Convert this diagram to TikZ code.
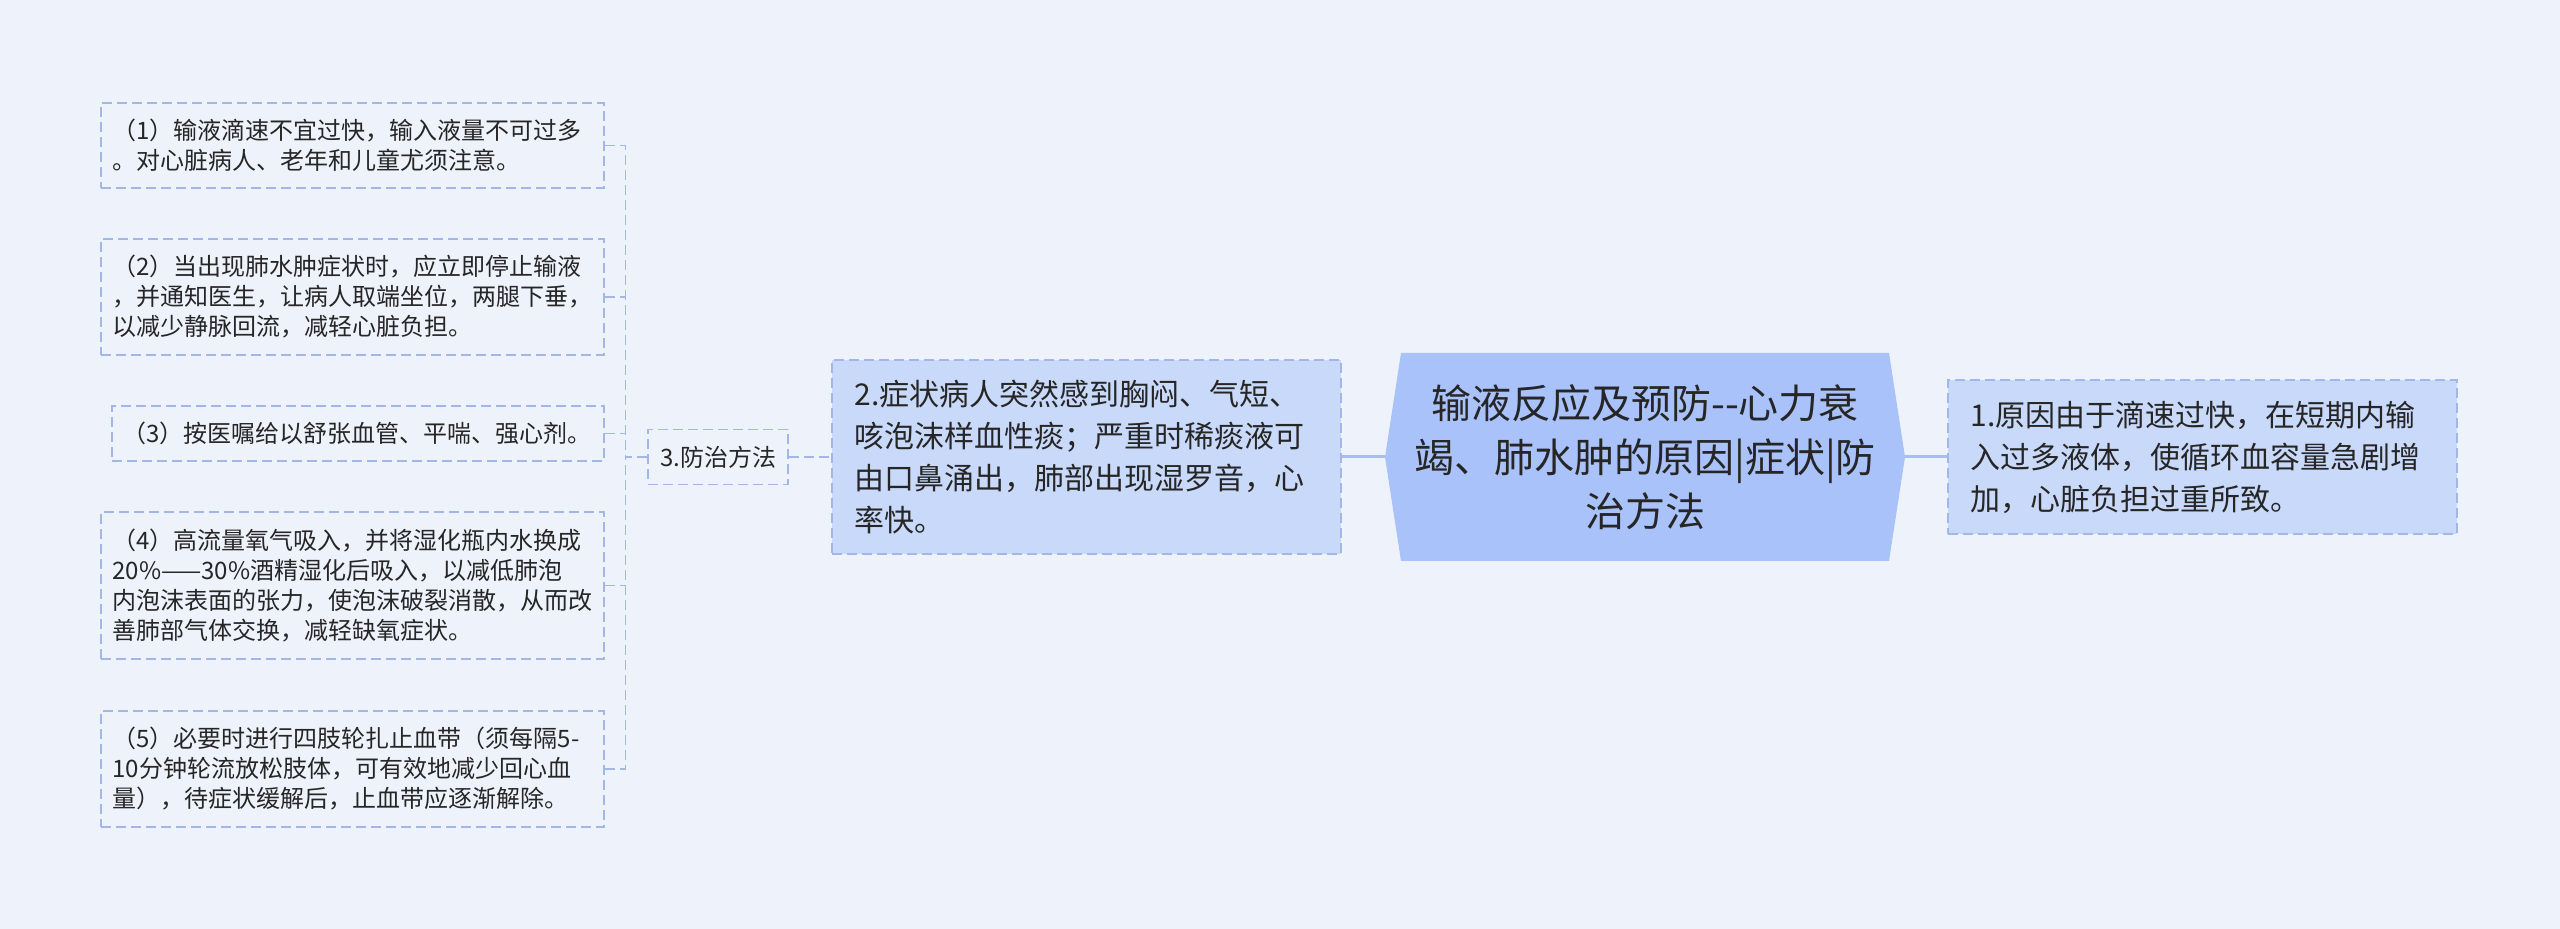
\documentclass[tikz,border=0pt]{standalone}
\usepackage{fontspec}
\newfontfamily\cjk{Noto Sans CJK SC}
\usetikzlibrary{calc}
\definecolor{bgc}{HTML}{EEF2FB}
\definecolor{rootfill}{HTML}{AAC2FA}
\definecolor{midfill}{HTML}{C9D9FA}
\definecolor{dashc}{HTML}{A3B6E8}
\definecolor{solidc}{HTML}{A8BDF0}
\definecolor{txt}{HTML}{262626}
\tikzset{
  boxdash/.style={draw=dashc, line width=0.7pt, dash pattern=on 5pt off 2.5pt},
  leafbox/.style={boxdash, inner sep=0pt, align=left, text=txt,
    font=\cjk\fontsize{12}{15}\selectfont, minimum width=251.5pt, text width=240pt},
  midbox/.style={boxdash, fill=midfill, inner sep=0pt, align=left, text=txt,
    font=\cjk\fontsize{15}{21}\selectfont, minimum width=254.5pt, text width=232pt},
  rootnode/.style={inner sep=0pt, align=center, text=txt,
    font=\cjk\fontsize{20}{27}\selectfont},
  dline/.style={boxdash},
  sline/.style={draw=solidc, line width=1.5pt},
}
\begin{document}
\begin{tikzpicture}[x=0.5pt,y=-0.5pt]
\fill[bgc] (0,0) rectangle (2560,929);
\useasboundingbox (0,0) rectangle (2560,929);

% root
\fill[rootfill] (1385,457) -- (1401,353) -- (1889,353) -- (1905,457) -- (1889,561) -- (1401,561) -- cycle;
\coordinate (rootW) at (1385,457);
\coordinate (rootE) at (1905,457);
\node[rootnode] (root) at (1645,457) {输液反应及预防--心力衰\\竭、肺水肿的原因|症状|防\\治方法};

% level 1
\node[midbox, minimum height=77pt] (n1) at (2202.5,457)
  {1.原因由于滴速过快，在短期内输\\入过多液体，使循环血容量急剧增\\加，心脏负担过重所致。};
\node[midbox, minimum height=97pt] (n2) at (1086.5,457)
  {2.症状病人突然感到胸闷、气短、\\咳泡沫样血性痰；严重时稀痰液可\\由口鼻涌出，肺部出现湿罗音，心\\率快。};
\node[boxdash, inner sep=0pt, text=txt, font=\cjk\fontsize{12}{15}\selectfont,
  minimum width=70pt, minimum height=27.5pt] (n3) at (718,457) {3.防治方法};

% leaves
\node[leafbox, minimum height=42.5pt] (l1) at (352.5,145.5)
  {（1）输液滴速不宜过快，输入液量不可过多\\。对心脏病人、老年和儿童尤须注意。};
\node[leafbox, minimum height=58pt] (l2) at (352.5,297)
  {（2）当出现肺水肿症状时，应立即停止输液\\，并通知医生，让病人取端坐位，两腿下垂，\\以减少静脉回流，减轻心脏负担。};
\node[leafbox, minimum width=246pt, text width=236pt, minimum height=27.5pt] (l3) at (358,433.5)
  {（3）按医嘱给以舒张血管、平喘、强心剂。};
\node[leafbox, minimum height=73.5pt] (l4) at (352.5,585.5)
  {（4）高流量氧气吸入，并将湿化瓶内水换成\\20\%——30\%酒精湿化后吸入，以减低肺泡\\内泡沫表面的张力，使泡沫破裂消散，从而改\\善肺部气体交换，减轻缺氧症状。};
\node[leafbox, minimum height=58pt] (l5) at (352.5,769)
  {（5）必要时进行四肢轮扎止血带（须每隔5-\\10分钟轮流放松肢体，可有效地减少回心血\\量），待症状缓解后，止血带应逐渐解除。};

% connectors
\draw[sline] (n2.east) -- (rootW);
\draw[sline] (rootE) -- (n1.west);
\draw[dline] (n3.east) -- (n2.west);
\coordinate (bus) at ($(n3.west)+(-22,0)$);
\draw[dline] (n3.west) -- (bus);
\draw[dline] (l1.east) -| (bus);
\draw[dline] (l5.east) -| (bus);
\draw[dline] (l2.east) -- (l2.east -| bus);
\draw[dline] (l3.east) -- (l3.east -| bus);
\draw[dline] (l4.east) -- (l4.east -| bus);
\end{tikzpicture}
\end{document}
